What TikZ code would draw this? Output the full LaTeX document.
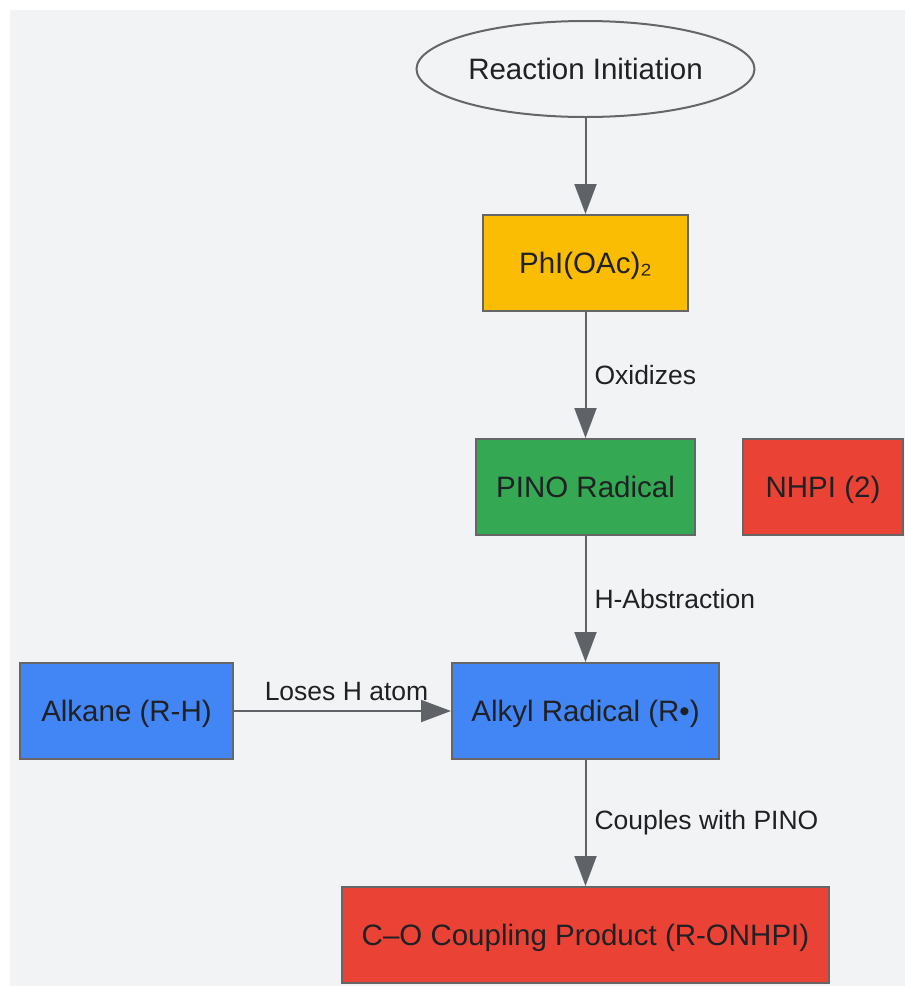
\documentclass[tikz,border=0pt]{standalone}
\usepackage{fontspec}
\setmainfont{Liberation Sans}
\usetikzlibrary{shapes.geometric,arrows.meta}
\definecolor{bgcol}{HTML}{F1F3F5}
\definecolor{bordercol}{HTML}{666666}
\definecolor{arrowcol}{HTML}{5F6368}
\definecolor{textcol}{HTML}{202124}
\definecolor{yellowfill}{HTML}{FBBC04}
\definecolor{greenfill}{HTML}{34A853}
\definecolor{redfill}{HTML}{EA4335}
\definecolor{bluefill}{HTML}{4285F4}

\begin{document}
\begin{tikzpicture}[x=1pt,y=-1pt]
\tikzstyle{box}=[draw=bordercol,line width=2pt,minimum height=96pt,inner sep=0pt,text height=21pt,text depth=0pt,font=\fontsize{29.5}{34}\selectfont,text=textcol]
\tikzstyle{startnode}=[ellipse,draw=bordercol,line width=2pt,minimum width=338pt,minimum height=96pt,inner sep=0pt,text height=21pt,text depth=0pt,font=\fontsize{29.5}{34}\selectfont,text=textcol]
\tikzstyle{flow}=[draw=arrowcol,line width=2pt,-{Triangle[length=30pt,width=22pt]}]
\tikzstyle{edgelbl}=[font=\fontsize{26.5}{31}\selectfont,text=textcol,inner sep=8pt]
\fill[bgcol] (10,10) rectangle (905,986);
\useasboundingbox (0,0) rectangle (905,986);
\node[startnode] (init) at (585.5,69) {Reaction Initiation};
\node[box,fill=yellowfill,minimum width=205pt] (pida) at (585.5,263) {PhI(OAc)₂};
\node[box,fill=greenfill,minimum width=219pt] (pino) at (585.5,487) {PINO Radical};
\node[box,fill=redfill,minimum width=160pt] (nhpi) at (823,487) {NHPI (2)};
\node[box,fill=bluefill,minimum width=213pt] (alkane) at (126.5,711) {Alkane (R-H)};
\node[box,fill=bluefill,minimum width=267pt] (alkyl) at (585.5,711) {Alkyl Radical (R•)};
\node[box,fill=redfill,minimum width=487pt] (prod) at (585.5,935) {C–O Coupling Product (R-ONHPI)};
\draw[flow] (init) -- (pida);
\draw[flow] (pida) -- (pino)node[edgelbl,midway,right] {Oxidizes};
\draw[flow] (pino) -- (alkyl)node[edgelbl,midway,right] {H-Abstraction};
\draw[flow] (alkane) -- (alkyl)node[edgelbl,midway,above,xshift=4pt,inner sep=9pt] {Loses H atom};
\draw[flow] (alkyl) -- (prod)node[edgelbl,midway,right] {Couples with PINO};
\end{tikzpicture}
\end{document}
